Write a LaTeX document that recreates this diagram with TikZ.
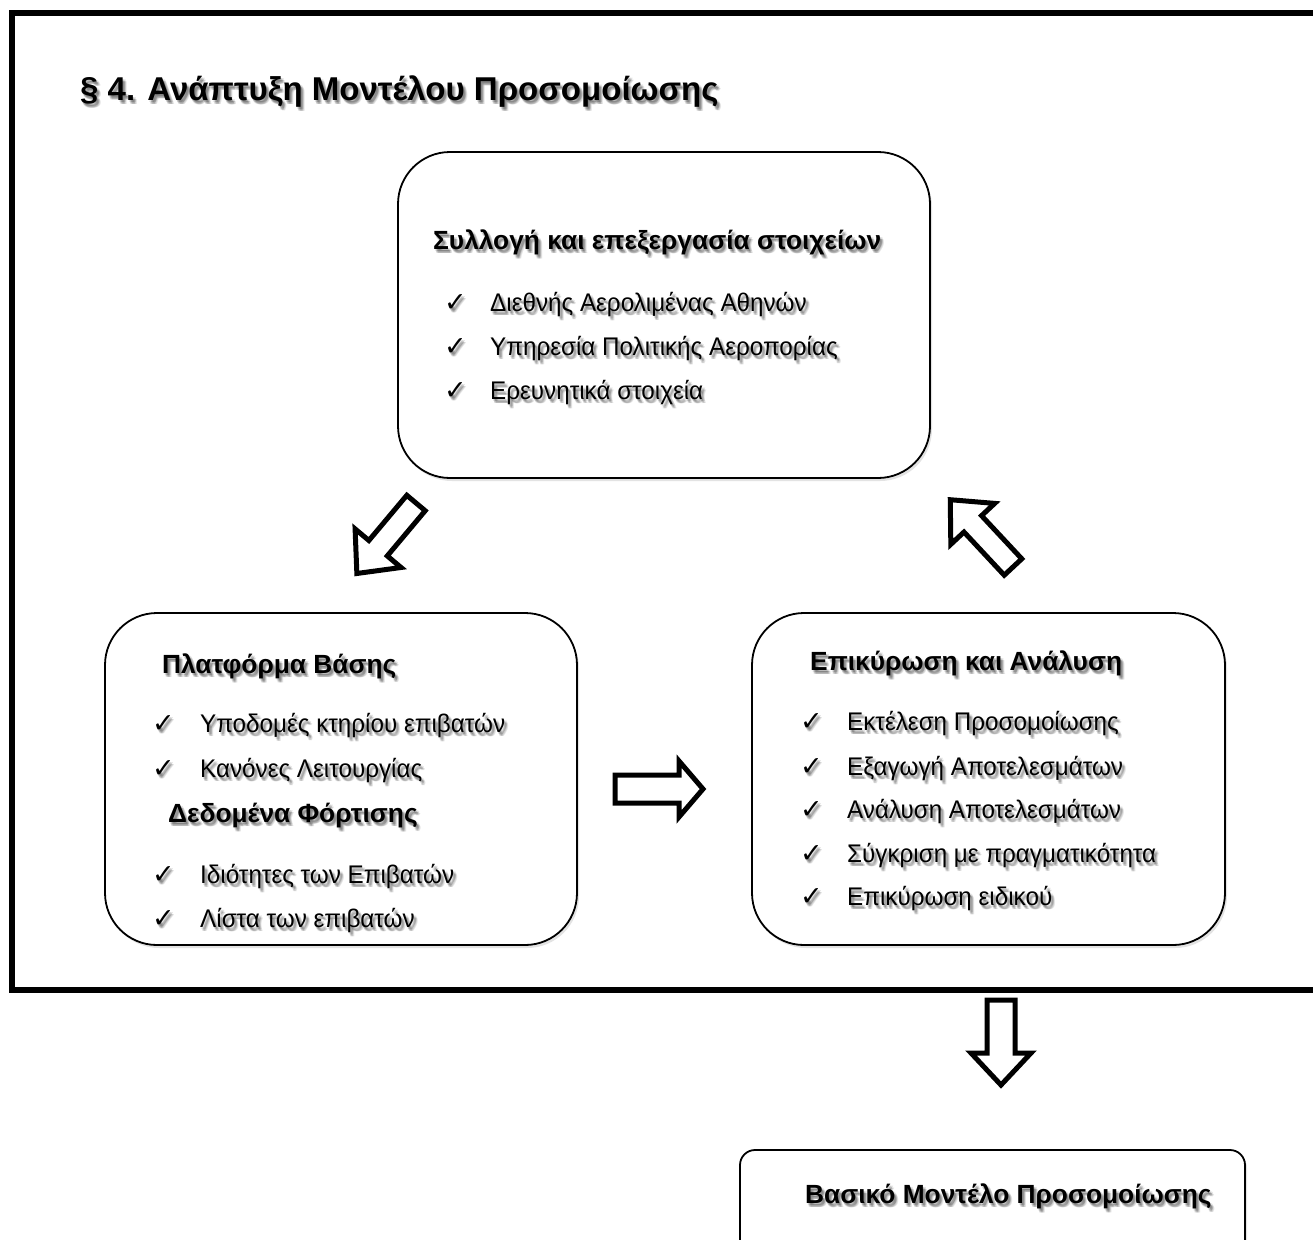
\documentclass[tikz,border=0pt]{standalone}
\usepackage{fontspec}
\setmainfont{Liberation Sans}
\newfontfamily\itemfont[FakeStretch=0.95]{Liberation Sans}
\newfontfamily\symfont{DejaVu Sans}
\usetikzlibrary{shadows}

\tikzset{
  panel/.style={draw=black, line width=1.8pt, fill=white, rounded corners=52pt,
    drop shadow={opacity=0.22, shadow xshift=2pt, shadow yshift=-3pt}},
  smallpanel/.style={panel, rounded corners=15pt},
  txt/.style={inner sep=0pt, anchor=base west, font=\itemfont\fontsize{25.5}{30}\selectfont},
  head/.style={txt, font=\bfseries\fontsize{26.3}{31}\selectfont},
  bigtitle/.style={txt, font=\bfseries\fontsize{33}{38}\selectfont},
  tick/.style={txt, font=\symfont\fontsize{27}{32}\selectfont},
  ghost/.style={text=black, text opacity=0.10},
  blockarrow/.style={draw=black, fill=white, line width=5pt, line join=miter},
  frame/.style={draw=black, line width=6pt, line join=miter}
}

% text line with a soft drop shadow: name, x, baseline y, style, text
\newcommand\shtext[5]{%
  \foreach \dx/\dy [count=\k] in {1/2,2/3,3/4,2/4,3/2,4/4}{%
    \node[#4, ghost] (#1-g\k) at (#2+\dx,#3+\dy) {#5};}
  \node[#4] (#1) at (#2,#3) {#5};}

% checked list entry: name, tick x, text x, baseline y, text
\newcommand\checkitem[5]{%
  \shtext{#1-tick}{#2}{#4}{tick}{✓}%
  \shtext{#1}{#3}{#4}{txt}{#5}}

% hollow block arrow: tail x, tail y, direction, length, head length, shaft half width, head half width
\newcommand\hollowarrow[7]{%
  \draw[blockarrow, shift={(#1,#2)}, rotate=#3]
    (0,-#6) -- (#4-#5,-#6) -- (#4-#5,-#7) -- (#4,0) -- (#4-#5,#7)
    -- (#4-#5,#6) -- (0,#6) -- cycle;}

\begin{document}
\begin{tikzpicture}[x=1pt, y=-1pt]
  \useasboundingbox (0,0) rectangle (1313,1239);
  \fill[white] (0,0) rectangle (1313,1239);

  % open frame around the three stages
  \draw[frame] (1313,13) -- (12,13) -- (12,990) -- (1313,990);

  \shtext{title}{80}{100}{bigtitle}{§ 4. Ανάπτυξη Μοντέλου Προσομοίωσης}

  % stage boxes
  \node[panel, minimum width=532pt, minimum height=326pt] (collect) at (664,315) {};
  \node[panel, minimum width=472pt, minimum height=332pt] (base) at (341,779) {};
  \node[panel, minimum width=473pt, minimum height=332pt] (valid) at (988.5,779) {};
  \node[smallpanel, minimum width=505pt, minimum height=120pt] (result) at (992.5,1210) {};

  % data collection
  \shtext{collect-h}{433}{249}{head}{Συλλογή και επεξεργασία στοιχείων}
  \checkitem{c1}{444}{490}{311}{Διεθνής Αερολιμένας Αθηνών}
  \checkitem{c2}{444}{490}{355}{Υπηρεσία Πολιτικής Αεροπορίας}
  \checkitem{c3}{444}{490}{399}{Ερευνητικά στοιχεία}

  % base platform and load data
  \shtext{base-h}{162}{673}{head}{Πλατφόρμα Βάσης}
  \checkitem{b1}{152}{200}{732}{Υποδομές κτηρίου επιβατών}
  \checkitem{b2}{152}{200}{777}{Κανόνες Λειτουργίας}
  \shtext{load-h}{168}{822}{head}{Δεδομένα Φόρτισης}
  \checkitem{b3}{152}{200}{883}{Ιδιότητες των Επιβατών}
  \checkitem{b4}{152}{200}{927}{Λίστα των επιβατών}

  % validation and analysis
  \shtext{valid-h}{810}{670}{head}{Επικύρωση και Ανάλυση}
  \checkitem{v1}{800}{847}{730}{Εκτέλεση Προσομοίωσης}
  \checkitem{v2}{800}{847}{775}{Εξαγωγή Αποτελεσμάτων}
  \checkitem{v3}{800}{847}{818}{Ανάλυση Αποτελεσμάτων}
  \checkitem{v4}{800}{847}{862}{Σύγκριση με πραγματικότητα}
  \checkitem{v5}{800}{847}{905}{Επικύρωση ειδικού}

  % outcome
  \shtext{result-h}{805}{1203}{head}{Βασικό Μοντέλο Προσομοίωσης}

  % flow between the stages
  \hollowarrow{416}{503}{-130}{92}{33}{12}{30}
  \hollowarrow{615}{789}{0}{88}{24}{14}{28}
  \hollowarrow{1013}{567}{133}{92}{33}{12}{30}
  \hollowarrow{1001}{1000}{-90}{85}{32}{14}{30}
\end{tikzpicture}
\end{document}
